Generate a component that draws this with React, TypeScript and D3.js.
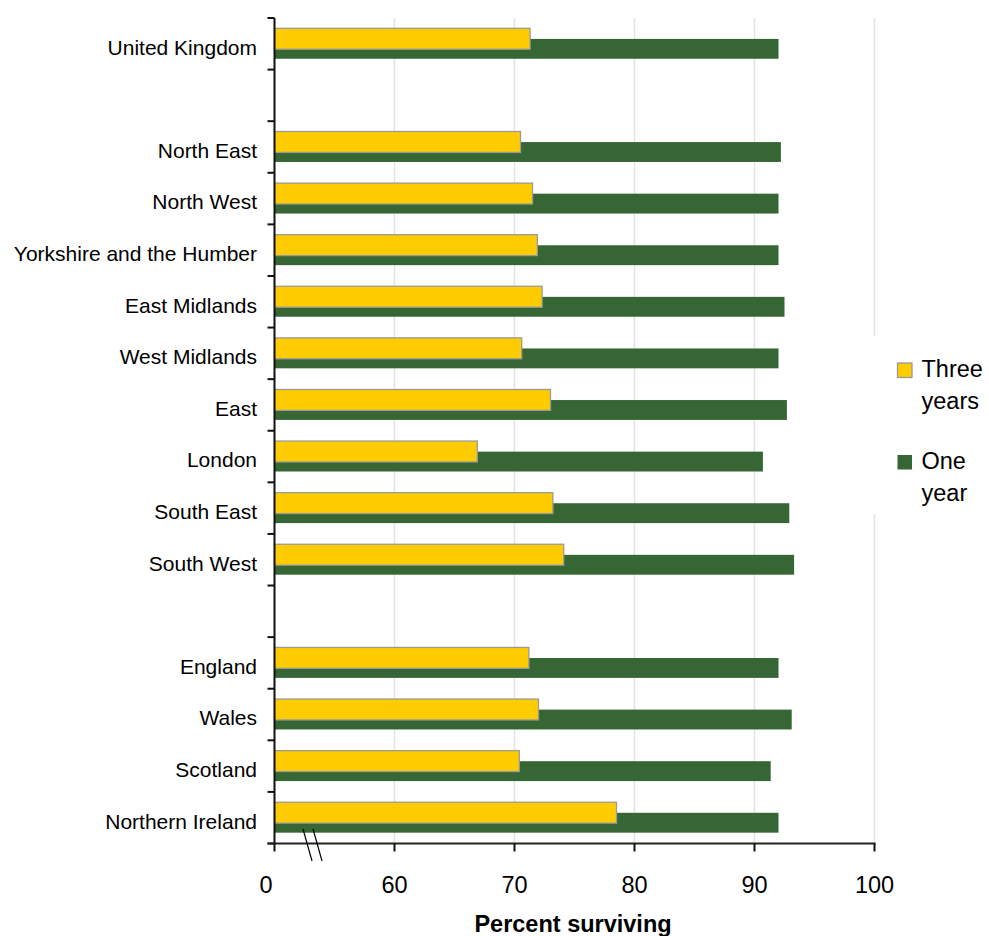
import React from "react";
import * as d3 from "d3";

// Rows of the chart, top to bottom; blank strings are spacer rows.
const categories = [
  "United Kingdom",
  " ",
  "North East",
  "North West",
  "Yorkshire and the Humber",
  "East Midlands",
  "West Midlands",
  "East",
  "London",
  "South East",
  "South West",
  "  ",
  "England",
  "Wales",
  "Scotland",
  "Northern Ireland",
];

// Survival rates (percent), null for spacer rows.
const threeYears = [71.3, null, 70.5, 71.5, 71.9, 72.3, 70.6, 73.0, 66.9, 73.2, 74.1, null, 71.2, 72.0, 70.4, 78.5];
const oneYear = [92.0, null, 92.2, 92.0, 92.0, 92.5, 92.0, 92.7, 90.7, 92.9, 93.3, null, 92.0, 93.1, 91.35, 92.0];

const xTicks = [50, 60, 70, 80, 90, 100];
const xTickLabels = ["0", "60", "70", "80", "90", "100"];

const legendItems = [
  { lines: ["Three", "years"], color: "#FFCC00", stroke: "#999999" },
  { lines: ["One", "year"], color: "#356633", stroke: "none" },
];

const W = 989;
const H = 936;
const FONT = "'Liberation Sans', Arial, sans-serif";

export default function App() {
  const x = d3.scaleLinear().domain([50, 100]).range([274.5, 874.5]);
  const y = d3.scaleBand<string>().domain(categories).range([18, 843.5]).paddingInner(0).paddingOuter(0);
  const bw = y.bandwidth();
  const axisY = 843.5;
  const axisX = x(50);

  const boundaries = d3.range(categories.length + 1).map((i) => 18 + i * bw);

  return (
    <svg width={W} height={H} style={{ position: "absolute", left: 0, top: 0, background: "#fff" }}>
      {/* vertical gridlines */}
      {xTicks.slice(1).map((t) => (
        <line key={"g" + t} x1={x(t)} x2={x(t)} y1={18} y2={axisY} stroke="#e3e3e3" strokeWidth={1.5} />
      ))}

      {/* one-year bars (behind) */}
      {categories.map((c, i) =>
        oneYear[i] == null ? null : (
          <rect
            key={"o" + i}
            x={axisX}
            y={(y(c) as number) + bw * 0.405}
            width={x(oneYear[i] as number) - axisX}
            height={bw * 0.385}
            fill="#356633"
          />
        )
      )}

      {/* three-year bars (front) */}
      {categories.map((c, i) =>
        threeYears[i] == null ? null : (
          <rect
            key={"t" + i}
            x={axisX}
            y={(y(c) as number) + bw * 0.2}
            width={x(threeYears[i] as number) - axisX}
            height={bw * 0.405}
            fill="#FFCC00"
            stroke="#9a9a9a"
            strokeWidth={1.3}
          />
        )
      )}

      {/* category axis */}
      <line x1={axisX} x2={axisX} y1={18} y2={axisY} stroke="#111" strokeWidth={2} />
      {boundaries.map((b, i) => (
        <line key={"yt" + i} x1={axisX - 7} x2={axisX} y1={b} y2={b} stroke="#111" strokeWidth={2} />
      ))}
      {categories.map((c) =>
        c.trim() === "" ? null : (
          <text
            key={"l" + c}
            x={257}
            y={(y(c) as number) + bw / 2 + 10.8}
            textAnchor="end"
            fontFamily={FONT}
            fontSize={21}
            fill="#000"
          >
            {c}
          </text>
        )
      )}

      {/* value axis */}
      <line x1={axisX - 7} x2={x(100) + 1} y1={axisY} y2={axisY} stroke="#222" strokeWidth={2} />
      {xTicks.map((t) => (
        <line key={"xt" + t} x1={x(t)} x2={x(t)} y1={axisY} y2={axisY + 8} stroke="#111" strokeWidth={2} />
      ))}
      {xTicks.map((t, i) => (
        <text
          key={"xl" + t}
          x={i === 0 ? x(t) - 8.5 : x(t)}
          y={893}
          textAnchor="middle"
          fontFamily={FONT}
          fontSize={23.5}
          fill="#000"
        >
          {xTickLabels[i]}
        </text>
      ))}

      {/* axis break marks */}
      <line x1={303} y1={829} x2={312} y2={861} stroke="#000" strokeWidth={1.2} />
      <line x1={313} y1={829} x2={322} y2={861} stroke="#000" strokeWidth={1.2} />

      <text x={573} y={932} textAnchor="middle" fontFamily={FONT} fontSize={23.5} fontWeight="bold" fill="#000">
        Percent surviving
      </text>

      {/* legend */}
      <rect x={866} y={336} width={123} height={178} fill="#fff" />
      {legendItems.map((it, i) => {
        const base = 377 + i * 92;
        return (
          <g key={"lg" + i}>
            <rect
              x={897.5}
              y={base - 14}
              width={14.5}
              height={14.5}
              fill={it.color}
              stroke={it.stroke}
              strokeWidth={it.stroke === "none" ? 0 : 1.3}
            />
            {it.lines.map((ln, j) => (
              <text
                key={j}
                x={921.5}
                y={base + j * 31.5}
                fontFamily={FONT}
                fontSize={23.5}
                fill="#000"
              >
                {ln}
              </text>
            ))}
          </g>
        );
      })}
    </svg>
  );
}
